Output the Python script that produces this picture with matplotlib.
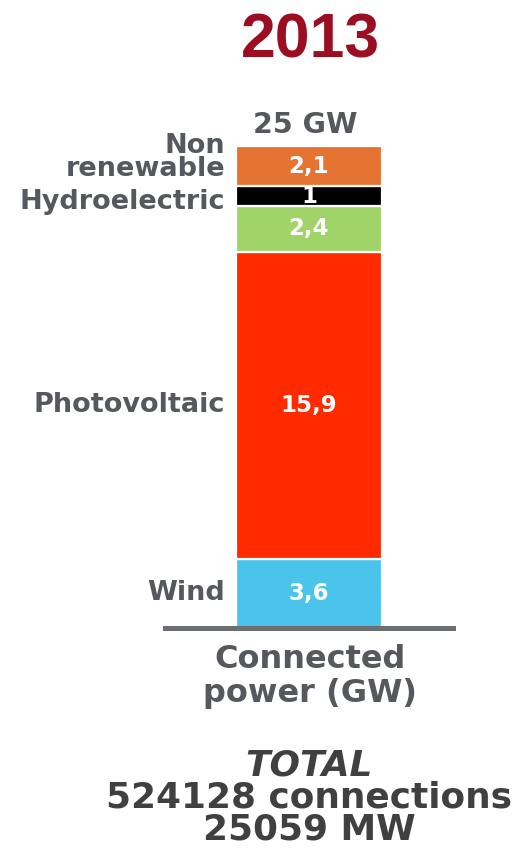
import matplotlib
matplotlib.use("Agg")
import matplotlib.pyplot as plt
import numpy as np

# ---------------------------------------------------------
# === Data ===
# ---------------------------------------------------------
year = "2013"
sources = ["Wind", "Photovoltaic", "", "Hydroelectric", "Non\nrenewable"]
power_gw = [3.6, 15.9, 2.4, 1.0, 2.1]
colors = ["#4BC4EC", "#FF2A00", "#A0D468", "#000000", "#E57433"]
total_label = "25 GW"
x_label = "Connected\npower (GW)"
total_lines = ["TOTAL", "524128 connections", "25059 MW"]

# ---------------------------------------------------------
# === Figure ===
# ---------------------------------------------------------
W, H = 517, 856
fig = plt.figure(figsize=(W / 100, H / 100), dpi=100)

GRAY = "#55595e"
DARK = "#404040"


def fx(px):
    return px / W


def fy(py):
    return 1 - py / H


ax = fig.add_axes([fx(165), fy(628), fx(453) - fx(165), (628 - 146) / H])

bottoms = np.concatenate([[0], np.cumsum(power_gw)[:-1]])
bar_w = 146 / 288 * 2
ax.bar(0, power_gw, bottom=bottoms, width=bar_w, color=colors,
       edgecolor="white", linewidth=1.6)

# small nudges so the stacked labels on the thin top segments don't collide
nudge = [0, 0, 0, -0.3, 0.45]

for v, b, name, dy in zip(power_gw, bottoms, sources, nudge):
    mid = b + v / 2
    txt = f"{v:g}".replace(".", ",")
    ax.text(0, mid, txt, ha="center", va="center", color="white",
            fontsize=16.5, fontweight="bold")
    if name:
        ax.text(-bar_w / 2 - 0.075, mid + dy, name, ha="right", va="center",
                multialignment="right", color=GRAY, fontsize=19.5,
                fontweight="bold", linespacing=0.85, clip_on=False)

ax.set_xlim(-1, 1)
ax.set_ylim(0, sum(power_gw))
for s in ["top", "left", "right"]:
    ax.spines[s].set_visible(False)
ax.spines["bottom"].set_color("#6b6e72")
ax.spines["bottom"].set_linewidth(3.6)
ax.set_xticks([])
ax.set_yticks([])

# Titles and annotations
fig.text(fx(310), fy(57), year, ha="center", va="baseline", color="#9B0E22",
         fontsize=45, fontweight="bold", family="Liberation Sans")
fig.text(fx(305), fy(133), total_label, ha="center", va="baseline",
         color=GRAY, fontsize=20.5, fontweight="bold")

xl = x_label.split("\n")
fig.text(fx(310), fy(668), xl[0], ha="center", va="baseline",
         color=GRAY, fontsize=23, fontweight="bold")
fig.text(fx(310), fy(702), xl[1], ha="center", va="baseline",
         color=GRAY, fontsize=23, fontweight="bold")

for line, base, style in zip(total_lines, [775, 807, 840],
                             ["italic", "normal", "normal"]):
    fig.text(fx(309), fy(base), line, ha="center", va="baseline",
             color=DARK, fontsize=25.8, fontweight="bold", style=style)

fig.savefig("out.png", dpi=100)
